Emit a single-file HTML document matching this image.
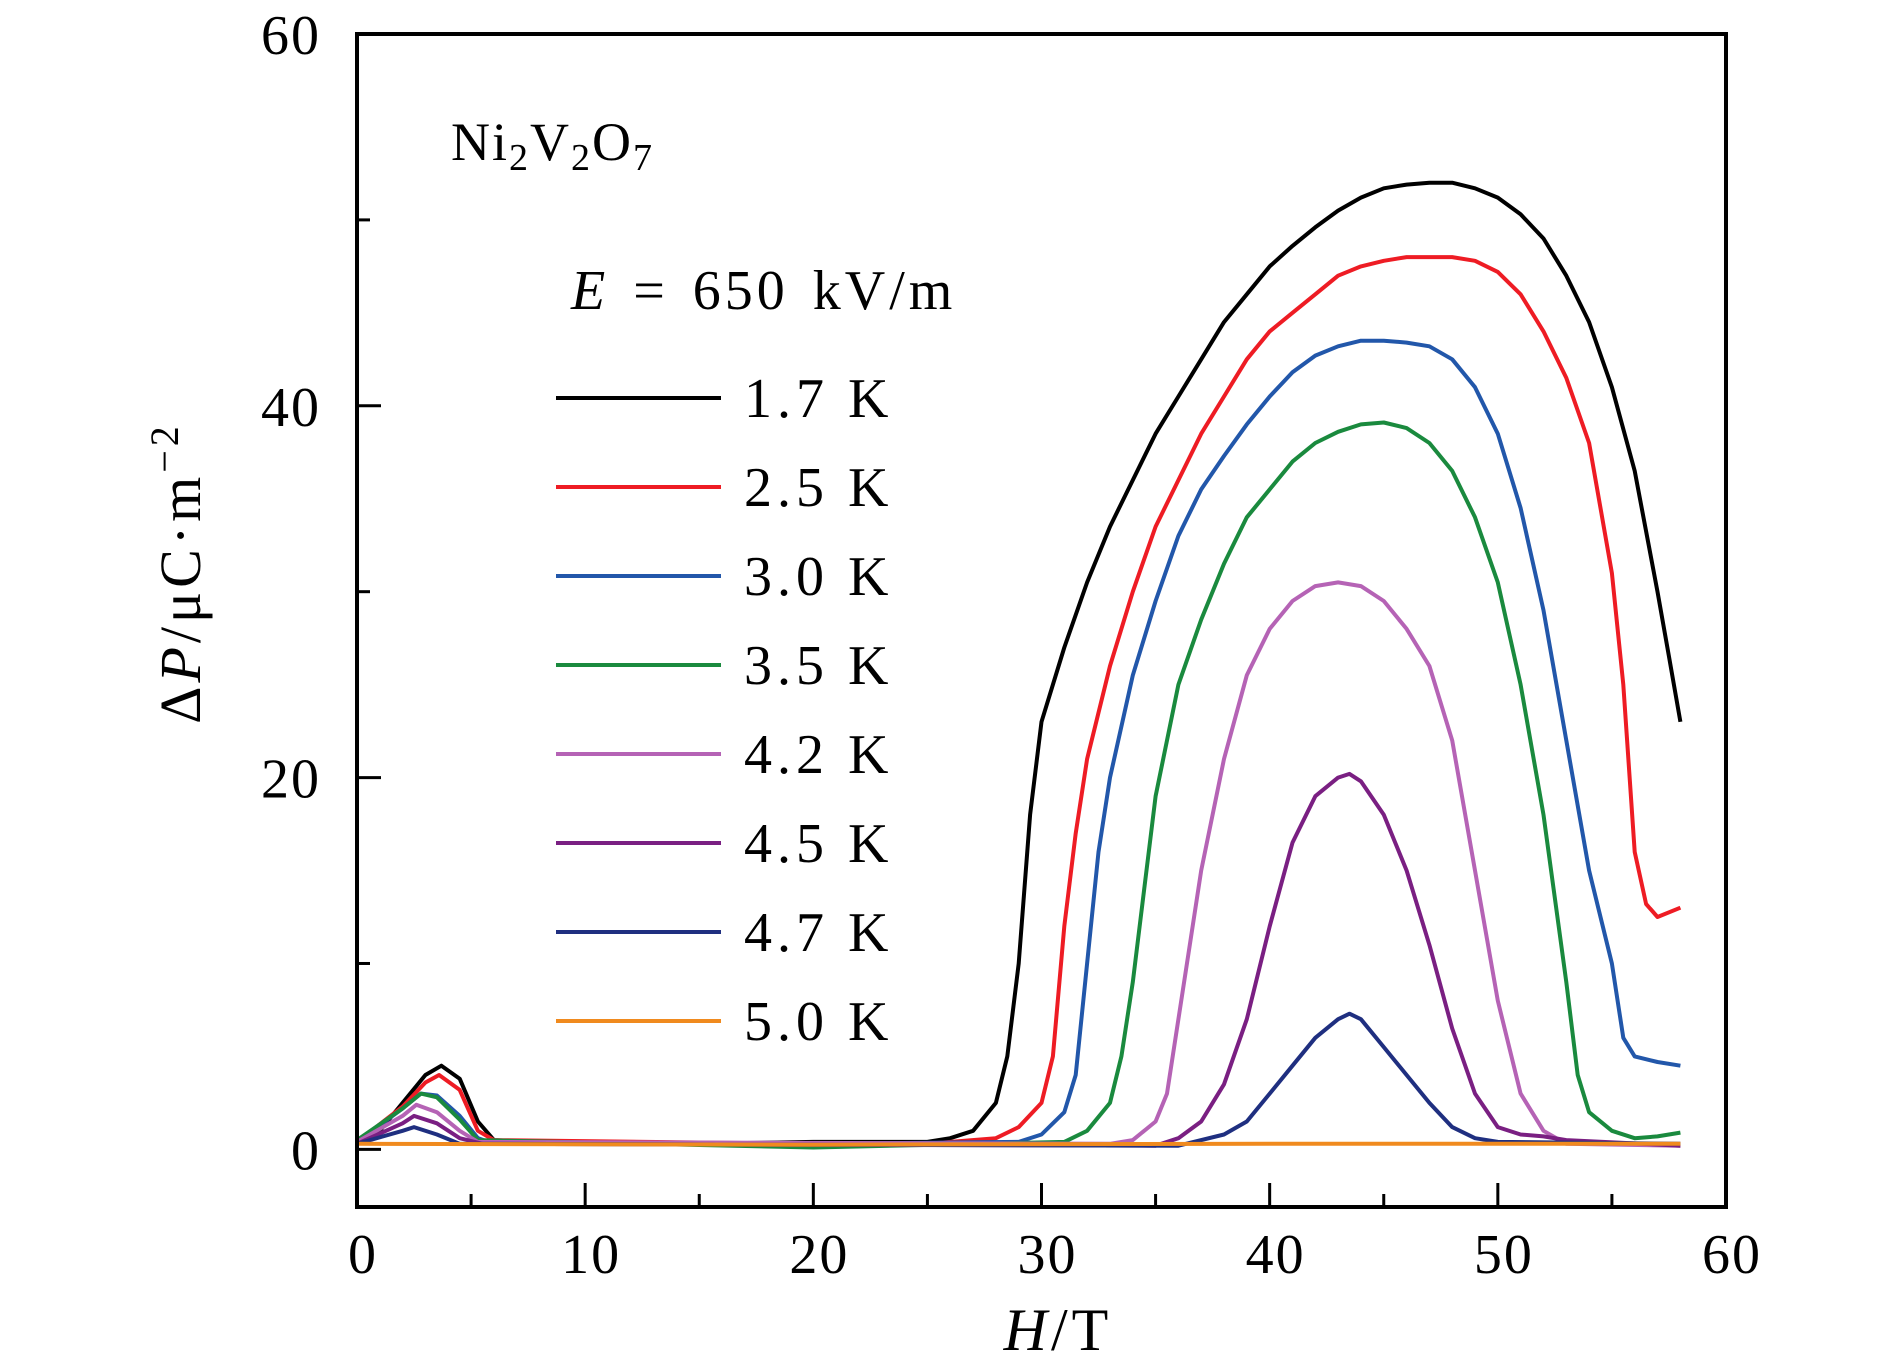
<!DOCTYPE html>
<html><head><meta charset="utf-8"><style>
html,body{margin:0;padding:0;background:#fff;}
svg{display:block;font-family:"Liberation Serif",serif;}
</style></head><body>
<svg id="chart" width="1890" height="1371" viewBox="0 0 1890 1371">
<g id="plot"></g>
<g id="axes"></g>
<text x="451" y="160" font-size="54" letter-spacing="2">Ni<tspan font-size="38" dy="10">2</tspan><tspan dy="-10">V</tspan><tspan font-size="38" dy="10">2</tspan><tspan dy="-10">O</tspan><tspan font-size="38" dy="10">7</tspan></text>
<text x="571" y="309" font-size="56" letter-spacing="4" word-spacing="6"><tspan font-style="italic">E</tspan> = 650 kV/m</text>
<g id="legend"></g>
<text x="1058" y="1350" font-size="60" letter-spacing="4" text-anchor="middle"><tspan font-style="italic">H</tspan>/T</text>
<text transform="translate(200,573) rotate(-90)" font-size="58" letter-spacing="4" text-anchor="middle">Δ<tspan font-style="italic">P</tspan>/μC·m<tspan font-size="40" dy="-22">−2</tspan></text>
</svg>
<script>
const xTicks=[0,10,20,30,40,50,60];
const xMinor=[5,15,25,35,45,55];
const yTicks=[0,20,40,60];
const yMinor=[10,30,50];
const seriesLabels=["1.7 K","2.5 K","3.0 K","3.5 K","4.2 K","4.5 K","4.7 K","5.0 K"];
const seriesColors=["#000000","#ee1c24","#2257aa","#1a8a3e","#b563b5","#7a1f82","#1f2f80","#f08a1e"];
const s17=[[0,0.5],[1,1],[2,2.5],[3,4],[3.7,4.5],[4.5,3.8],[5.3,1.5],[6,0.5],[8,0.4],[15,0.3],[20,0.4],[25,0.4],[26,0.6],[27,1],[28,2.5],[28.5,5],[29,10],[29.5,18],[30,23],[31,27],[32,30.5],[33,33.5],[34,36],[35,38.5],[36,40.5],[37,42.5],[38,44.5],[39,46],[40,47.5],[41,48.6],[42,49.6],[43,50.5],[44,51.2],[45,51.7],[46,51.9],[47,52],[48,52],[49,51.7],[50,51.2],[51,50.3],[52,49],[53,47],[54,44.5],[55,41],[56,36.5],[57,30],[57.5,26.5],[58,23]];
const s25=[[0,0.4],[2,2.3],[3,3.6],[3.6,4],[4.5,3.2],[5.3,1],[6,0.5],[20,0.3],[25,0.3],[28,0.6],[29,1.2],[30,2.5],[30.5,5],[31,12],[31.5,17],[32,21],[33,26],[34,30],[35,33.5],[36,36],[37,38.5],[38,40.5],[39,42.5],[40,44],[41,45],[42,46],[43,47],[44,47.5],[45,47.8],[46,48],[47,48],[48,48],[49,47.8],[50,47.2],[51,46],[52,44],[53,41.5],[54,38],[55,31],[55.5,25],[56,16],[56.5,13.2],[57,12.5],[58,13]];
const s30=[[0,0.4],[2,2.2],[2.8,3],[3.5,2.9],[4.5,1.8],[5.3,0.6],[6,0.3],[20,0.3],[29,0.4],[30,0.8],[31,2],[31.5,4],[32,10],[32.5,16],[33,20],[34,25.5],[35,29.5],[36,33],[37,35.5],[38,37.3],[39,39],[40,40.5],[41,41.8],[42,42.7],[43,43.2],[44,43.5],[45,43.5],[46,43.4],[47,43.2],[48,42.5],[49,41],[50,38.5],[51,34.5],[52,29],[53,22],[54,15],[55,10],[55.5,6],[56,5],[57,4.7],[58,4.5]];
const s35=[[0,0.5],[2,2.2],[2.8,3],[3.5,2.8],[4.5,1.6],[5.3,0.5],[20,0.1],[31,0.4],[32,1],[33,2.5],[33.5,5],[34,9],[34.5,14],[35,19],[36,25],[37,28.5],[38,31.5],[39,34],[40,35.5],[41,37],[42,38],[43,38.6],[44,39],[45,39.1],[46,38.8],[47,38],[48,36.5],[49,34],[50,30.5],[51,25],[52,18],[53,9],[53.5,4],[54,2],[55,1],[56,0.6],[57,0.7],[58,0.9]];
const s42=[[0,0.4],[2,1.8],[2.6,2.4],[3.5,2],[4.5,1],[5.3,0.4],[33,0.3],[34,0.5],[35,1.5],[35.5,3],[36,7],[36.5,11],[37,15],[38,21],[39,25.5],[40,28],[41,29.5],[42,30.3],[43,30.5],[44,30.3],[45,29.5],[46,28],[47,26],[48,22],[49,15],[50,8],[51,3],[52,1],[53,0.3],[58,0.2]];
const s45=[[0,0.3],[2,1.4],[2.5,1.8],[3.5,1.4],[4.5,0.6],[5.5,0.3],[35,0.2],[36,0.6],[37,1.5],[38,3.5],[39,7],[40,12],[41,16.5],[42,19],[43,20],[43.5,20.2],[44,19.8],[45,18],[46,15],[47,11],[48,6.5],[49,3],[50,1.2],[51,0.8],[52,0.7],[53,0.5],[58,0.2]];
const s47=[[0,0.3],[2,1],[2.5,1.2],[3.5,0.8],[4.5,0.3],[36,0.2],[38,0.8],[39,1.5],[40,3],[41,4.5],[42,6],[43,7],[43.5,7.3],[44,7],[45,5.5],[46,4],[47,2.5],[48,1.2],[49,0.6],[50,0.4],[58,0.3]];
const s50=[[0,0.3],[20,0.25],[40,0.3],[58,0.3]];
const seriesData=[s17,s25,s30,s35,s42,s45,s47,s50];

const L=357,R=1726,T=34,B=1207;
const xMin=0,xMax=60,yMin=-3.1,yMax=60;
const X=v=>L+(v-xMin)/(xMax-xMin)*(R-L);
const Y=v=>B-(v-yMin)/(yMax-yMin)*(B-T);
const NS="http://www.w3.org/2000/svg";
function mk(tag,attrs,parent){const e=document.createElementNS(NS,tag);for(const k in attrs)e.setAttribute(k,attrs[k]);parent.appendChild(e);return e;}
const plot=document.getElementById('plot'),axes=document.getElementById('axes'),legend=document.getElementById('legend');

seriesData.forEach((d,i)=>{
  const p=mk('polyline',{points:d.map(q=>X(q[0]).toFixed(1)+','+Y(q[1]).toFixed(1)).join(' '),fill:'none',stroke:seriesColors[i],'stroke-width':4,'stroke-linejoin':'round'},plot);
  
  
  const ly=398+i*89;
  const ln=mk('line',{x1:556,x2:721,y1:ly,y2:ly,stroke:seriesColors[i],'stroke-width':4},legend);
  
  
  const t=mk('text',{x:744,y:ly+19,'font-size':56,'letter-spacing':5},legend);
  t.textContent=seriesLabels[i];
  
  
});

const frame=mk('rect',{x:L,y:T,width:R-L,height:B-T,fill:'none',stroke:'#000','stroke-width':4},axes);


xTicks.forEach(v=>{
  const tk=mk('line',{x1:X(v),x2:X(v),y1:B,y2:B-24,stroke:'#000','stroke-width':3},axes);
  
  
  const t=mk('text',{x:X(v)+6,y:B+66,'font-size':56,'letter-spacing':2,'text-anchor':'middle'},axes);
  t.textContent=v;
  
  
});
xMinor.forEach(v=>{
  const tk=mk('line',{x1:X(v),x2:X(v),y1:B,y2:B-13,stroke:'#000','stroke-width':3},axes);
  
  
});
yTicks.forEach(v=>{
  const tk=mk('line',{x1:L,x2:L+24,y1:Y(v),y2:Y(v),stroke:'#000','stroke-width':3},axes);
  
  
  const t=mk('text',{x:L-36,y:Y(v)+20,'font-size':56,'letter-spacing':2,'text-anchor':'end'},axes);
  t.textContent=v;
  
  
});
yMinor.forEach(v=>{
  const tk=mk('line',{x1:L,x2:L+13,y1:Y(v),y2:Y(v),stroke:'#000','stroke-width':3},axes);
  
  
});
</script>
</body></html>
